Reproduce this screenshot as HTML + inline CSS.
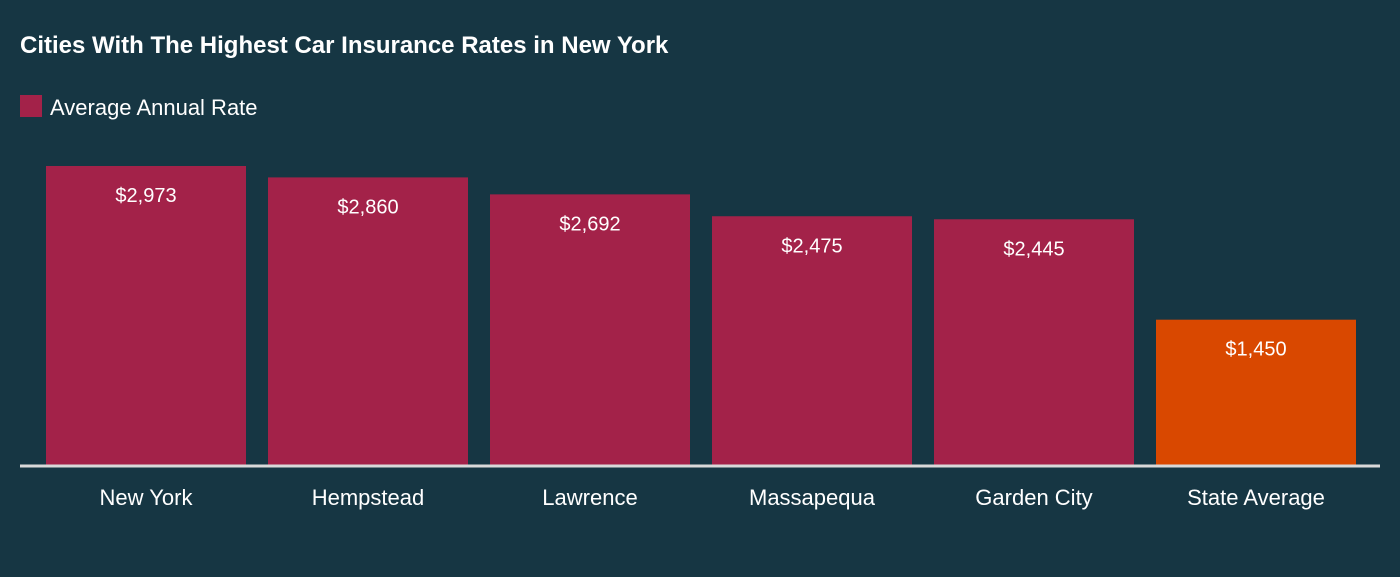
<!DOCTYPE html>
<html><head><meta charset="utf-8">
<style>
html,body{margin:0;padding:0;background:#163643;}
body{width:1400px;height:572px;overflow:hidden;font-family:"Liberation Sans",sans-serif;}
</style></head>
<body>
<svg width="1400" height="572" xmlns="http://www.w3.org/2000/svg">
<rect width="1400" height="572" fill="#163643"/>
<text x="20" y="53" fill="#ffffff" font-size="24" font-weight="bold">Cities With The Highest Car Insurance Rates in New York</text>
<g>
<rect x="20" y="95" width="22" height="22" fill="#a32249"/>
<text x="50" y="115" fill="#ffffff" font-size="22">Average Annual Rate</text>
</g>
<g id="bars"></g>
<line x1="20" y1="466" x2="1380" y2="466" stroke="#d9d9d9" stroke-width="3"/>
</svg>
<script>
const categories = ["New York","Hempstead","Lawrence","Massapequa","Garden City","State Average"];
const values = [2973,2860,2692,2475,2445,1450];
const valueLabels = ["$2,973","$2,860","$2,692","$2,475","$2,445","$1,450"];
const ns = "http://www.w3.org/2000/svg";
const g = document.getElementById("bars");
const baseY = 466, scaleK = 300/2973;
function y(v){ return baseY - v*scaleK; }
function xLeft(i){ return 46 + i*222; }
const bw = 200;
categories.forEach((c,i)=>{
  const r = document.createElementNS(ns,"rect");
  r.setAttribute("x", xLeft(i));
  r.setAttribute("y", y(values[i]));
  r.setAttribute("width", bw);
  r.setAttribute("height", baseY - y(values[i]));
  r.setAttribute("fill", i===categories.length-1 ? "#d94800" : "#a32249");
  
  
  g.appendChild(r);
  const t = document.createElementNS(ns,"text");
  t.setAttribute("x", xLeft(i)+bw/2);
  t.setAttribute("y", y(values[i])+36);
  t.setAttribute("text-anchor","middle");
  t.setAttribute("fill","#ffffff");
  t.setAttribute("font-size","20");
  t.textContent = valueLabels[i];
  
  
  g.appendChild(t);
  const l = document.createElementNS(ns,"text");
  l.setAttribute("x", xLeft(i)+bw/2);
  l.setAttribute("y", 505);
  l.setAttribute("text-anchor","middle");
  l.setAttribute("fill","#ffffff");
  l.setAttribute("font-size","22");
  l.textContent = c;
  
  
  g.appendChild(l);
});
</script>
</body></html>
